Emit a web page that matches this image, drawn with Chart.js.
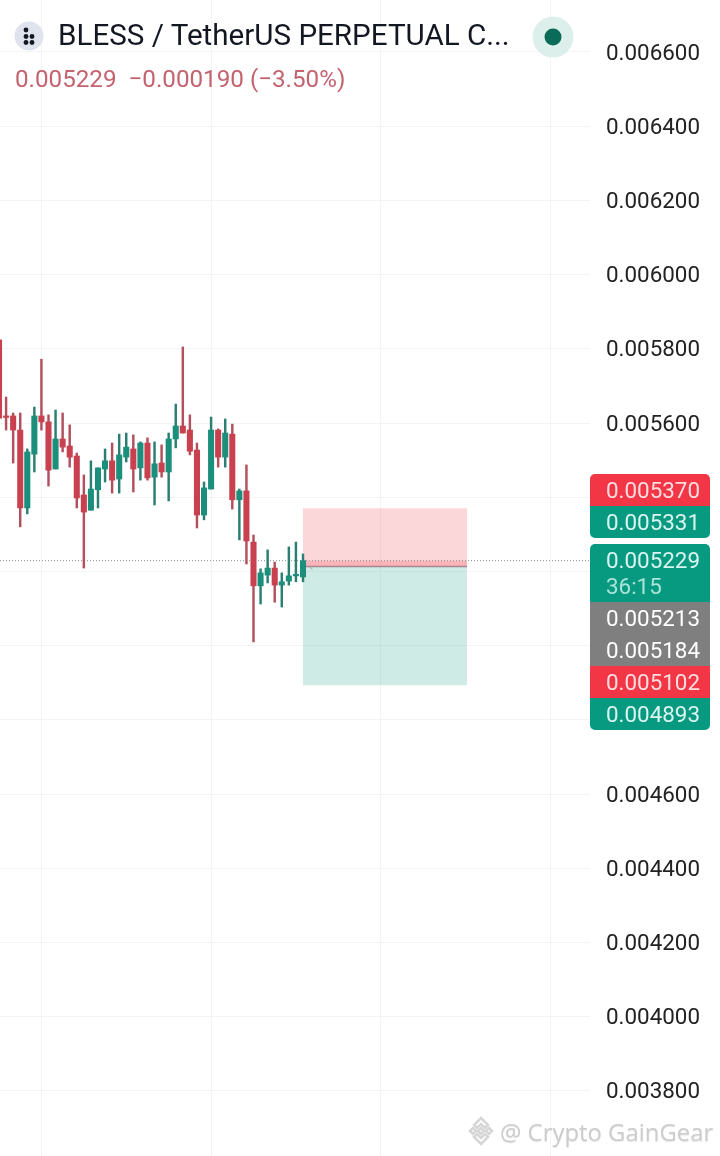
<!DOCTYPE html>
<html>
<head>
<meta charset="utf-8">
<title>BLESS / TetherUS</title>
<script src="https://cdn.jsdelivr.net/npm/chart.js@4/dist/chart.umd.min.js"></script>
<style>
  html, body { margin: 0; padding: 0; background: #fff; }
  #wrap { position: relative; width: 720px; height: 1156px; overflow: hidden; font-family: Roboto, sans-serif; }
  #chart { position: absolute; left: 0; top: 0; }
  .abs { position: absolute; white-space: pre; }
  #title { left: 58px; top: 17px; font-size: 29.6px; line-height: 36px; color: #131722; }
  #quote { left: 15px; top: 64px; font-size: 24.2px; line-height: 30px; color: #c4636f; }
  .tag { position: absolute; left: 590px; width: 120px; }
  .tag span { position: absolute; left: 16px; font-size: 22.4px; line-height: 32px; white-space: pre; }
  #mark { left: 500px; top: 1116px; font-family: "Open Sans", sans-serif; font-size: 23.9px; line-height: 32px; color: #cdcdcd; text-shadow: 0 1px 1px #e4e4e4; }
</style>
</head>
<body>
<div id="wrap">
  <canvas id="chart" width="720" height="1156" style="width:720px;height:1156px"></canvas>

  <svg class="abs" style="left:14px;top:21px" width="30" height="30">
    <circle cx="15" cy="15" r="14.5" fill="#dfe3ee"/>
    <circle cx="12" cy="9" r="2.4" fill="#131722"/>
    <circle cx="12" cy="15.5" r="2.4" fill="#131722"/>
    <circle cx="18" cy="15.5" r="2.4" fill="#131722"/>
    <circle cx="12" cy="21.5" r="2.4" fill="#131722"/>
    <circle cx="18" cy="21.5" r="2.4" fill="#131722"/>
  </svg>
  <div class="abs" id="title">BLESS / TetherUS PERPETUAL C...</div>
  <div class="abs" id="quote">0.005229  −0.000190 (−3.50%)</div>
  <svg class="abs" style="left:532px;top:16px" width="42" height="42">
    <circle cx="21" cy="21" r="20.5" fill="#dcefeb"/>
    <circle cx="21" cy="21" r="8.5" fill="#0b6b59"/>
  </svg>

  <svg class="abs" style="left:466px;top:1116px" width="30" height="30" fill="none" stroke="#d6d6d6" stroke-width="2.5">
    <path d="M15 2 L22 9 L19 12 L15 8 L11 12 L8 9 Z"/>
    <path d="M15 28 L22 21 L19 18 L15 22 L11 18 L8 21 Z"/>
    <path d="M4 15 L7 12 L10 15 L7 18 Z"/>
    <path d="M20 15 L23 12 L26 15 L23 18 Z"/>
    <path d="M15 12 L18 15 L15 18 L12 15 Z"/>
  </svg>
  <div class="abs" id="mark">@ Crypto GainGear</div>
</div>

<script>
// Candles, oldest first
const opens = [0.005824,0.005616,0.005619,0.005581,0.005371,0.005516,0.005619,0.005603,0.005476,0.005557,0.005538,
  0.005511,0.005406,0.005365,0.005420,0.005476,0.005498,0.005449,0.005508,0.005530,0.005479,0.005546,
  0.005454,0.005492,0.005468,0.005557,0.005592,0.005581,0.005527,0.005352,0.005422,0.005581,0.005508,
  0.005570,0.005393,0.005417,0.005279,0.005161,0.005190,0.005209,0.005163,0.005174,0.005188,0.005185];
const highs = [0.005824,0.005670,0.005627,0.005627,0.005530,0.005643,0.005772,0.005622,0.005635,0.005627,0.005595,
  0.005519,0.005460,0.005498,0.005479,0.005530,0.005546,0.005570,0.005573,0.005568,0.005549,0.005560,
  0.005549,0.005541,0.005573,0.005651,0.005805,0.005622,0.005546,0.005441,0.005616,0.005584,0.005611,
  0.005597,0.005422,0.005487,0.005298,0.005207,0.005258,0.005225,0.005196,0.005266,0.005279,0.005247];
const lows = [0.005613,0.005581,0.005492,0.005320,0.005355,0.005468,0.005581,0.005430,0.005476,0.005522,0.005481,
  0.005371,0.005209,0.005365,0.005371,0.005441,0.005411,0.005411,0.005495,0.005414,0.005446,0.005446,
  0.005379,0.005454,0.005390,0.005533,0.005573,0.005514,0.005317,0.005339,0.005422,0.005481,0.005481,
  0.005368,0.005285,0.005220,0.005010,0.005112,0.005169,0.005117,0.005104,0.005163,0.005172,0.005172];
const closes = [0.005613,0.005615,0.005581,0.005371,0.005522,0.005619,0.005603,0.005473,0.005557,0.005535,0.005508,
  0.005398,0.005360,0.005422,0.005479,0.005498,0.005446,0.005514,0.005535,0.005476,0.005546,0.005452,
  0.005490,0.005468,0.005557,0.005592,0.005573,0.005524,0.005352,0.005425,0.005581,0.005508,0.005573,
  0.005393,0.005417,0.005282,0.005161,0.005196,0.005209,0.005163,0.005172,0.005188,0.005190,0.005229];

// Price axis
const yTickValues = [0.0038,0.0040,0.0042,0.0044,0.0046,0.0048,0.0050,0.0052,0.0054,0.0056,0.0058,0.0060,0.0062,0.0064,0.0066];
const yTickHidden = [0.0048,0.0050,0.0052,0.0054]; // sit behind the price tags
const xGridIndices = [6,30,54,78];

// Short position drawing
const positionStart = 43;
const positionEnd = 66.2;
const stopPrice = 0.005370;
const entryPrice = 0.005213;
const targetPrice = 0.004893;
const lastPrice = 0.005229;

// Price tags on the right
const tagLabels = ['0.005370','0.005331','0.005229','0.005213','0.005184','0.005102','0.004893'];
const tagKinds = ['red','green','green','gray','gray','red','green'];
const countdown = '36:15';

const colors = {
  up: '#1b8f7b',
  down: '#c9404f',
  upWick: '#2a7f72',
  downWick: '#b2505e',
  grid: '#f4f4f4',
  tick: '#222222',
  red: '#f23645',
  green: '#089981',
  gray: '#7f7f7f'
};

const indices = opens.map((_, i) => i);
const candleColors = indices.map(i => closes[i] >= opens[i] ? colors.up : colors.down);
const wickColors = indices.map(i => closes[i] >= opens[i] ? colors.upWick : colors.downWick);

// Flat segment across the position, used for zones and level lines
function span(price, from = positionStart, to = positionEnd) {
  return [{ x: from, y: price }, { x: to, y: price }];
}

const xMin = 0.14;
const xMax = 83.6;
const yMin = 0.00362428;
const yMax = 0.00674016;

new Chart(document.getElementById('chart').getContext('2d'), {
  data: {
    datasets: [
      {
        type: 'line',
        data: span(stopPrice),
        fill: { target: { value: entryPrice } },
        backgroundColor: 'rgba(242,54,69,0.2)',
        borderWidth: 0,
        pointRadius: 0,
        order: 5
      },
      {
        type: 'line',
        data: span(targetPrice),
        fill: { target: { value: entryPrice } },
        backgroundColor: 'rgba(8,153,129,0.2)',
        borderWidth: 0,
        pointRadius: 0,
        order: 5
      },
      {
        // running loss between entry and last price
        type: 'line',
        data: span(lastPrice),
        fill: { target: { value: entryPrice } },
        backgroundColor: 'rgba(242,54,69,0.22)',
        borderWidth: 0,
        pointRadius: 0,
        order: 4
      },
      {
        type: 'line',
        data: span(entryPrice),
        borderColor: '#a8878c',
        borderWidth: 1.5,
        pointRadius: 0,
        order: 3
      },
      {
        type: 'line',
        data: span(lastPrice, xMin, xMax),
        borderColor: '#8a8f8e',
        borderWidth: 1,
        borderDash: [1, 2],
        pointRadius: 0,
        order: 3
      },
      {
        // small marker next to the last candle
        type: 'line',
        data: [{ x: 43.9, y: 0.005213 }, { x: 44.35, y: 0.005205 }],
        borderColor: '#a9b0ae',
        borderWidth: 1,
        pointRadius: 0,
        order: 3
      },
      {
        type: 'bar',
        data: indices.map(i => ({ x: i, y: [lows[i], highs[i]] })),
        backgroundColor: wickColors,
        barThickness: 1.8,
        grouped: false,
        order: 2
      },
      {
        type: 'bar',
        data: indices.map(i => ({ x: i, y: [opens[i], closes[i]] })),
        backgroundColor: candleColors,
        barThickness: 5.4,
        minBarLength: 1.5,
        grouped: false,
        order: 1
      }
    ]
  },
  options: {
    responsive: false,
    animation: false,
    layout: { padding: 0 },
    plugins: { legend: { display: false }, tooltip: { enabled: false } },
    scales: {
      x: {
        type: 'linear',
        offset: false,
        min: xMin,
        max: xMax,
        afterBuildTicks: scale => { scale.ticks = xGridIndices.map(v => ({ value: v })); },
        afterFit: scale => { scale.height = 0; scale.paddingLeft = 0; scale.paddingRight = 0; },
        ticks: { display: false },
        grid: { color: colors.grid, drawTicks: false, offset: false },
        border: { display: false }
      },
      y: {
        position: 'right',
        min: yMin,
        max: yMax,
        afterBuildTicks: scale => { scale.ticks = yTickValues.map(v => ({ value: v })); },
        afterFit: scale => { scale.width = 130; scale.paddingTop = 0; scale.paddingBottom = 0; },
        ticks: {
          color: colors.tick,
          font: { family: 'Roboto', size: 22.4 },
          padding: 16,
          labelOffset: 2,
          autoSkip: false,
          minRotation: 0,
          maxRotation: 0,
          crossAlign: 'near',
          callback: v => yTickHidden.includes(v) ? '' : v.toFixed(6)
        },
        grid: { color: colors.grid, drawTicks: false },
        border: { display: false }
      }
    }
  }
});

// Price tags: pushed apart by the app so they do not overlap
const tagTops = [474, 506, 544, 602, 634, 666, 698];
const tagHeights = [32, 32, 58, 32, 32, 32, 32];
const tagTextColors = { red: '#fbdde0', green: '#d9f5ef', gray: '#ffffff' };
const tagRadius = ['5px 5px 0 0', '0 0 5px 5px', '5px 5px 0 0', '0', '0', '0', '0 0 5px 5px'];
const wrap = document.getElementById('wrap');

tagLabels.forEach((label, i) => {
  const tag = document.createElement('div');
  tag.className = 'tag';
  tag.style.top = tagTops[i] + 'px';
  tag.style.height = tagHeights[i] + 'px';
  tag.style.background = colors[tagKinds[i]];
  tag.style.borderRadius = tagRadius[i];
  const text = document.createElement('span');
  text.textContent = label;
  text.style.color = tagTextColors[tagKinds[i]];
  text.style.top = '0px';
  tag.appendChild(text);
  if (i === 2) {
    const timer = document.createElement('span');
    timer.textContent = countdown;
    timer.style.color = '#a9e4d8';
    timer.style.top = '26px';
    tag.appendChild(timer);
  }
  wrap.appendChild(tag);
});
</script>
</body>
</html>
